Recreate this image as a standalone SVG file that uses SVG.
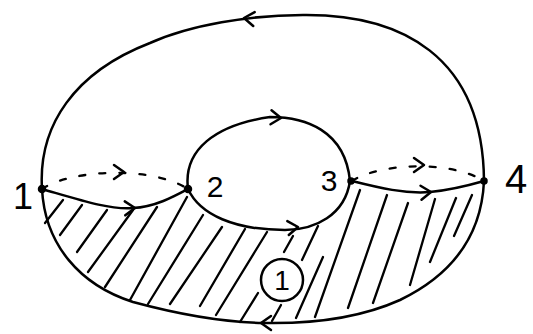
<svg xmlns="http://www.w3.org/2000/svg" width="533" height="334" viewBox="0 0 533 334">
<style>
.ln{fill:none;stroke:#000;stroke-width:2.5;stroke-linecap:round;stroke-linejoin:round}
.dash{fill:none;stroke:#000;stroke-width:2.3;stroke-linecap:round;stroke-dasharray:6 14}
.h{stroke:#000;stroke-width:2.3;stroke-linecap:round}
.lbl{font-family:"Liberation Sans",Arial,sans-serif;fill:#000}
.dot{fill:#000;stroke:#000;stroke-width:1.5}
</style>
<defs>
<path id="chev" d="M-10,-7 L0,0 L-10,7" class="ln"/>
</defs>
<rect width="533" height="334" fill="#fff"/>
<g id="hatching">
<line class="h" x1="63" y1="200" x2="45" y2="223"/>
<line class="h" x1="82" y1="205" x2="60" y2="235"/>
<line class="h" x1="107" y1="210" x2="77" y2="252"/>
<line class="h" x1="133" y1="210" x2="88" y2="272"/>
<line class="h" x1="157" y1="207" x2="105" y2="287"/>
<line class="h" x1="187" y1="197" x2="130" y2="300"/>
<line class="h" x1="203" y1="215" x2="148" y2="304"/>
<line class="h" x1="222" y1="227" x2="170" y2="304"/>
<line class="h" x1="245" y1="229" x2="200" y2="306"/>
<line class="h" x1="267" y1="232" x2="216" y2="315"/>
<line class="h" x1="293" y1="236" x2="284" y2="252"/>
<line class="h" x1="258" y1="293" x2="240" y2="322"/>
<line class="h" x1="318" y1="226" x2="302" y2="260"/>
<line class="h" x1="281" y1="305" x2="272" y2="321"/>
<line class="h" x1="323" y1="257" x2="296" y2="318"/>
<line class="h" x1="360" y1="190" x2="315" y2="317"/>
<line class="h" x1="387" y1="195" x2="348" y2="308"/>
<line class="h" x1="408" y1="203" x2="373" y2="303"/>
<line class="h" x1="435" y1="199" x2="410" y2="285"/>
<line class="h" x1="456" y1="198" x2="430" y2="262"/>
<line class="h" x1="472" y1="195" x2="454" y2="236"/>
</g>
<g id="connectors">
<path class="ln" d="M42,189 C38,125 75,72 150,43 C190,25 250,15 303,15 C400,14 483,55 484,181"/>
<path class="ln" d="M484,181 C482,225 462,270 400,300 C360,318 310,324 263,323 C215,322 170,312 133,302 C80,285 45,245 42,189"/>
<path class="ln" d="M188,189 C183,150 215,125 270,117 C305,117 345,130 350,181"/>
<path class="ln" d="M188,189 C200,215 235,230 285,230 C315,230 345,215 350,181"/>
<path class="ln" d="M42,189 C80,200 110,210 133,208 C155,207 175,196 188,189"/>
<path class="dash" d="M42,189 C70,170 150,165 188,189"/>
<path class="ln" d="M352,181 C380,188 405,194 430,192 C452,190 470,185 484,181"/>
<path class="dash" d="M352,181 C380,163 450,160 484,181"/>
<use href="#chev" transform="translate(244,18) rotate(186)"/>
<use href="#chev" transform="translate(281,118) rotate(4)"/>
<use href="#chev" transform="translate(124,172) rotate(0)"/>
<use href="#chev" transform="translate(135,208) rotate(-2)"/>
<use href="#chev" transform="translate(298,227) rotate(-6)"/>
<use href="#chev" transform="translate(424,165) rotate(0)"/>
<use href="#chev" transform="translate(431,192) rotate(-4)"/>
<use href="#chev" transform="translate(261,323) rotate(180)"/>
</g>
<g id="node1">
<circle class="dot" cx="42" cy="189" r="3.5"/>
<text class="lbl" x="23" y="209" font-size="36" text-anchor="middle">1</text>
</g>
<g id="node2">
<circle class="dot" cx="188" cy="189" r="3.5"/>
<text class="lbl" x="215" y="197" font-size="30" text-anchor="middle">2</text>
</g>
<g id="node3">
<circle class="dot" cx="351" cy="181" r="3"/>
<text class="lbl" x="329" y="191" font-size="30" text-anchor="middle">3</text>
</g>
<g id="node4">
<circle class="dot" cx="484" cy="181" r="3"/>
<text class="lbl" x="516" y="193" font-size="40" text-anchor="middle">4</text>
</g>
<g id="region-label">
<circle cx="282" cy="280" r="21" fill="#fff" stroke="#000" stroke-width="2.5"/>
<text class="lbl" x="282" y="290" font-size="28" text-anchor="middle">1</text>
</g>
</svg>
